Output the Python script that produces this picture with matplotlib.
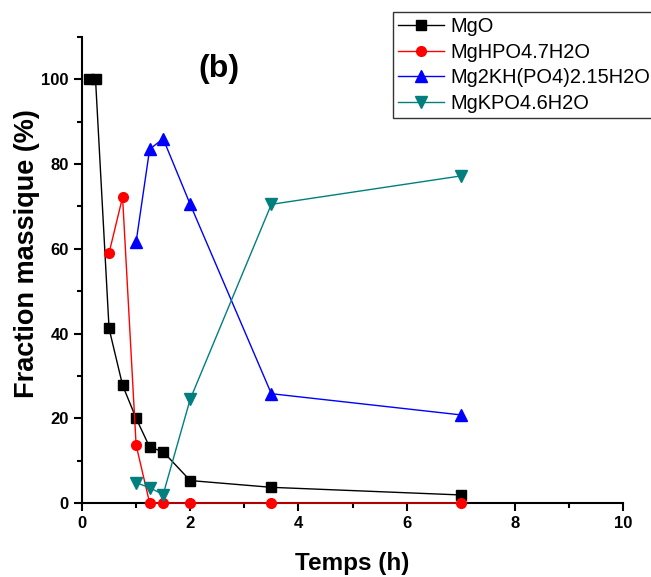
"""Fraction massique des phases en fonction du temps (b)"""

import matplotlib
matplotlib.use("Agg")
import matplotlib.pyplot as plt
from matplotlib.ticker import MultipleLocator

plt.rcParams['font.family'] = ['Liberation Sans', 'DejaVu Sans']

# donnees
t_mgo = [0.125, 0.25, 0.5, 0.75, 1.0, 1.25, 1.5, 2.0, 3.5, 7.0]
mgo = [100, 100, 41.2, 27.8, 20.0, 13.2, 12.1, 5.3, 3.7, 1.9]

t_hpo = [0.5, 0.75, 1.0, 1.25, 1.5, 2.0, 3.5, 7.0]
mghpo4 = [59.0, 72.2, 13.7, 0, 0, 0, 0, 0]

t_kh = [1.0, 1.25, 1.5, 2.0, 3.5, 7.0]
mg2kh = [61.6, 83.5, 86.0, 70.5, 25.8, 20.8]

t_kpo = [1.0, 1.25, 1.5, 2.0, 3.5, 7.0]
mgkpo4 = [4.8, 3.6, 2.0, 24.5, 70.5, 77.2]

labels = ["MgO", "MgHPO4.7H2O", "Mg2KH(PO4)2.15H2O", "MgKPO4.6H2O"]

fig = plt.figure(figsize=(6.51, 5.77), dpi=100)
ax = fig.add_axes([82/651, 1 - 503/577, 541/651, 466/577])

ax.plot(t_mgo, mgo, "-s", color="black", lw=1, ms=7, label=labels[0], clip_on=False, zorder=3)
ax.plot(t_hpo, mghpo4, "-o", color="red", lw=1, ms=7, label=labels[1], clip_on=False, zorder=3)
ax.plot(t_kh, mg2kh, "-^", color="blue", lw=1, ms=8, label=labels[2], clip_on=False, zorder=3)
ax.plot(t_kpo, mgkpo4, "-v", color="#007f7f", lw=1, ms=8, label=labels[3], clip_on=False, zorder=3)

ax.set_xlim(0, 10)
ax.set_ylim(0, 110)
ax.xaxis.set_major_locator(MultipleLocator(2))
ax.xaxis.set_minor_locator(MultipleLocator(1))
ax.yaxis.set_minor_locator(MultipleLocator(10))
ax.set_yticks([0, 20, 40, 60, 80, 100])
ax.spines['top'].set_visible(False)
ax.spines['right'].set_visible(False)
ax.spines['left'].set_linewidth(1.5)
ax.spines['bottom'].set_linewidth(1.5)
ax.tick_params(which='major', direction='out', length=6, width=1.5, labelsize=12)
ax.tick_params(which='minor', direction='out', length=3.5, width=1.5)
for lab in ax.get_xticklabels() + ax.get_yticklabels():
    lab.set_fontweight('bold')

ax.set_xlabel("Temps (h)", fontsize=17.5, fontweight='bold', labelpad=15)
ax.set_ylabel("Fraction massique (%)", fontsize=19.5, fontweight='bold')
ax.yaxis.set_label_coords(-0.078, 0.535)

ax.text(2.53, 102.4, "(b)", fontsize=23, fontweight='bold', ha='center', va='center')

leg = fig.legend(loc='upper left', bbox_to_anchor=(393/651, 1 - 12/577),
                 fontsize=14.4, frameon=True, fancybox=False, edgecolor='black',
                 handlelength=2.3, handletextpad=0.3, labelspacing=0.33,
                 borderpad=0.25, borderaxespad=0)
leg.get_frame().set_linewidth(1)

fig.savefig("out.png", dpi=100)
